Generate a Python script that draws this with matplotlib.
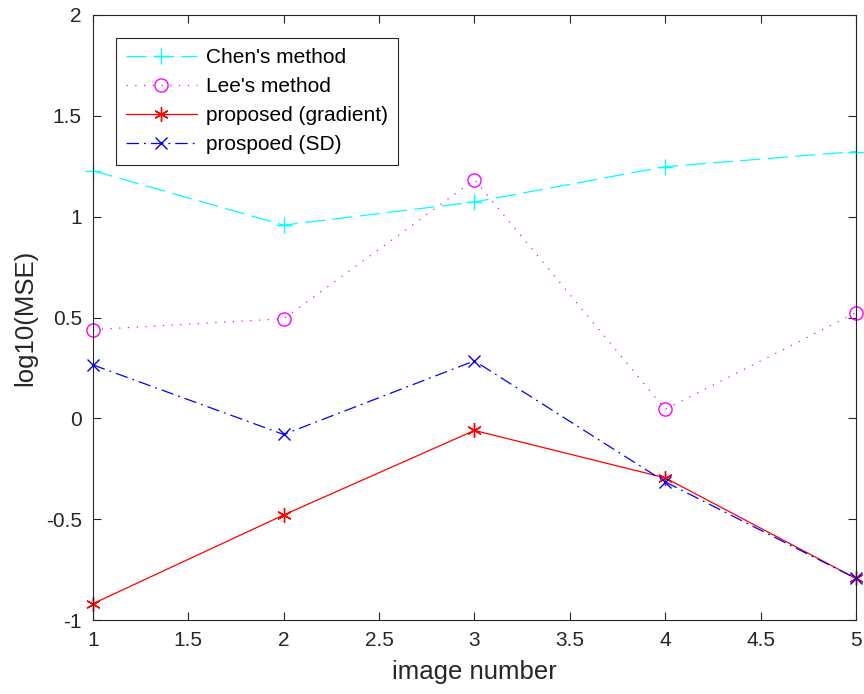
import matplotlib
matplotlib.use("Agg")
import matplotlib.pyplot as plt

plt.rcParams['font.family'] = ['Liberation Sans', 'DejaVu Sans']

image_number = [1, 2, 3, 4, 5]
chen = [1.228, 0.958, 1.073, 1.248, 1.323]
lee = [0.440, 0.494, 1.183, 0.045, 0.524]
proposed_gradient = [-0.919, -0.479, -0.060, -0.295, -0.794]
proposed_sd = [0.265, -0.080, 0.285, -0.315, -0.794]

fig = plt.figure(figsize=(8.64, 6.94), dpi=100)
ax = fig.add_axes([0.1076, 0.1066, 0.8831, 0.8718])

lw = 0.9
ax.plot(image_number, chen, color='#00FFFF', linestyle=(0, (16, 6)), linewidth=lw,
        marker='+', markersize=12, markeredgewidth=1.0, label="Chen's method",
        clip_on=False)
ax.plot(image_number, lee, color='#FF00FF', linestyle=(0, (1, 6)), linewidth=lw,
        marker='o', markersize=9.5, markerfacecolor='none', markeredgewidth=1.0,
        label="Lee's method", clip_on=False)
ax.plot(image_number, proposed_gradient, color='#FF0000', linestyle='-', linewidth=lw,
        marker=(6, 2, 0), markersize=10.5, markeredgewidth=1.0, label='proposed (gradient)',
        clip_on=False)
ax.plot(image_number, proposed_sd, color='#0000FF', linestyle=(0, (10, 4, 1.5, 4)), linewidth=lw,
        marker='x', markersize=9, markeredgewidth=1.0, label='prospoed (SD)',
        clip_on=False)

ax.set_xlim(1, 5)
ax.set_ylim(-1, 2)
ax.set_xticks([1, 1.5, 2, 2.5, 3, 3.5, 4, 4.5, 5])
ax.set_xticklabels(['1', '1.5', '2', '2.5', '3', '3.5', '4', '4.5', '5'])
ax.set_yticks([-1, -0.5, 0, 0.5, 1, 1.5, 2])
ax.set_yticklabels(['-1', '-0.5', '0', '0.5', '1', '1.5', '2'])

ax.tick_params(direction='in', top=True, right=True, length=6, width=0.8,
               colors='#262626', labelsize=15, pad=8)
for s in ax.spines.values():
    s.set_color('#262626')
    s.set_linewidth(0.8)

ax.set_xlabel('image number', fontsize=18.5, color='#262626', labelpad=7)
ax.set_ylabel('log10(MSE)', fontsize=18.5, color='#262626', labelpad=6)

leg = ax.legend(loc='upper left', bbox_to_anchor=(0.0301, 0.9625), fontsize=15,
                handlelength=3.37, handletextpad=0.45, labelspacing=0.48,
                borderpad=0.5, borderaxespad=0, fancybox=False, framealpha=1,
                edgecolor='#262626')
leg.get_frame().set_linewidth(0.8)

fig.savefig('out.png', dpi=100)
